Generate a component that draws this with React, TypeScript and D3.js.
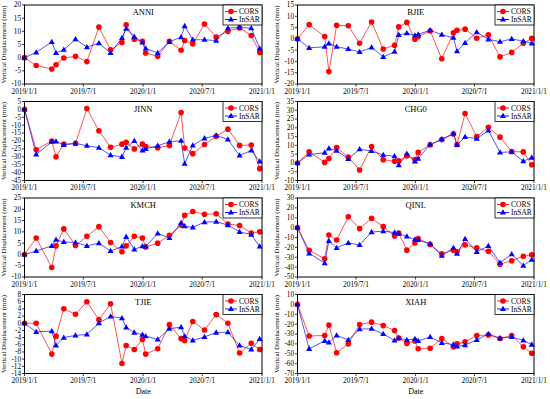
import React from 'react';
import * as d3 from 'd3';

// acquisition dates shared by every station
const dates = [
  '2019-01-01', '2019-02-06', '2019-03-26', '2019-04-08', '2019-05-02', '2019-06-07',
  '2019-07-12', '2019-08-18', '2019-09-23', '2019-10-28', '2019-11-10', '2019-12-05',
  '2019-12-30', '2020-01-09', '2020-02-15', '2020-03-22', '2020-04-27', '2020-05-08',
  '2020-06-02', '2020-07-08', '2020-08-13', '2020-09-18', '2020-10-24', '2020-11-29',
  '2020-12-25',
];

const xTickLabels = ['2019/1/1', '2019/7/1', '2020/1/1', '2020/7/1', '2021/1/1'];
const xTickDates = ['2019-01-01', '2019-07-01', '2020-01-01', '2020-07-01', '2021-01-01'];

const stationNames = ['ANNI', 'BJIE', 'JINN', 'CHG0', 'KMCH', 'QINL', 'TJIE', 'XIAH'];

const annCors = [0, -3, -4.3, -2.7, -0.1, 0.5, -1.5, 11.6, 3, 5.8, 12.5, 7, 6.2, 1.8, 0.5, 6.2, 2.8, 6.5, 5.2, 12.8, 7.8, 10, 11.3, 8.4, 2];
const annInsar = [0, 2, 6, 1.8, 3, 7, 4, 5.5, 1.8, 7.5, 11, 8, 5.8, 3.5, 1.8, 6, 7.8, 12, 6.8, 6.8, 6.5, 11.2, 11.5, 11.2, 3.5];

const bjiCors = [0, 6.3, 1, -14.5, 6, 5.8, -2, 7.5, -4.5, -2.8, 5.3, 7.3, -0.2, 1, 3.5, -8.8, 2.7, 3.8, 4.3, 0.3, 1.8, -8, -6, -2, 0.2];
const bjiInsar = [0, -4, -3.5, -2, -3.5, -4.5, -5.8, -3.8, -8, -5.7, 1.7, 2.5, 1.5, 2, 3.8, 1.8, 0.5, -5.5, -1.8, 3, -0.2, -1.3, 0, -1, -2];

const jinCors = [0, -25.5, -20, -30, -22, -21.5, 0.5, -13.5, -24, -22, -20.8, -25, -22, -23.5, -24.3, -22.8, -2, -24.5, -28, -22.2, -17, -12.5, -22.8, -22.5, -37.5];
const jinInsar = [0, -28.5, -20.5, -20.3, -22.5, -21.5, -23, -24.2, -29, -30, -24.2, -20, -26, -25, -23, -20.5, -19.8, -34.3, -22.8, -18.3, -16.5, -19, -29.2, -26, -33];

const chgCors = [0, 6.3, 0.3, 2.5, 8.8, 3.3, -4, 9.3, 1.8, 1, 1.2, 4, 2, 6, 10.3, 13.3, 16.5, 10.5, 28.2, 15, 20.3, 14.7, 6.5, 6.3, -1];
const chgInsar = [0, 4.8, 5.8, 8.3, 7, 2.3, 7.8, 6.8, 4.5, 3.8, -1.2, 5.3, 0.8, 2.5, 10.5, 13.5, 16.8, 10.3, 14.8, 13.8, 18.5, 6, 6.3, 1, 3];

const kmcCors = [0, 7.3, -5.8, 3.8, 11.3, 4, 8, 12.3, 5.3, 1.2, 3.8, 8, 7.3, 3.3, 5, 8.5, 13, 17.3, 19, 17.8, 18, 13.5, 12.8, 9.5, 10];
const kmcInsar = [0, 1.5, 3.8, 6.5, 5.5, 5.3, 3.8, 5, 1.5, 3.5, 7.8, 2.2, 3.7, 3.5, 9.3, 7.3, 14, 12.5, 12, 14.3, 14.5, 13, 10, 8.8, 3.5];

const qinCors = [0, -23, -31.5, -7.5, -12.5, 11, -1, 9.5, 1, -8.5, -5.5, -22.8, -15.5, -11, -17, -26.5, -22.8, -24.5, -17.5, -20.5, -24, -37, -33.5, -29, -27.5];
const qinInsar = [0, -26, -36, -13.5, -20.5, -15.5, -17.5, -4.5, -3.5, -5, -6, -9, -12, -12.5, -16.5, -28.5, -20.5, -26.5, -11.5, -24.5, -18.5, -35.5, -27, -38.5, -32.5];

const tjiCors = [0, 0, -8.6, -3.6, 4, 2.5, 6, 1, 5.4, -11.2, -6.2, -7.3, -4.5, -8.6, -7.1, -0.4, -4.3, -4.8, 0.5, -1.9, 2.4, 0, -8.3, -5.6, -7.3];
const tjiInsar = [0, -2.4, -2.2, -6.2, -4, -3.4, -3.1, 0, 1.9, 1.4, -1.2, -2.6, -3.2, -3.6, -4.5, -1.5, -1.1, -3.6, -4.8, -3.8, -2.6, -2.5, -6.2, -7.3, -4.4];

const xiaCors = [0, -32, -31.5, -21, -49, -40, -20.5, -18, -21.5, -26.5, -34, -39.5, -37, -45, -44.5, -34.5, -43, -40, -38, -31.5, -31, -34.5, -31.5, -43, -49.5];
const xiaInsar = [0, -45, -37, -38.5, -31.5, -36, -25, -24.7, -30, -36.5, -34.2, -36, -35, -37, -33, -39, -40.7, -42.5, -41.3, -36, -30, -34.2, -33, -36.5, -40.7];

const yDomains: [number, number, number][] = [
  [-10, 20, 5], [-20, 15, 5], [-45, 5, 5], [-10, 35, 5],
  [-10, 25, 5], [-50, 30, 10], [-14, 8, 2], [-70, 10, 10],
];

const corsSeries = [annCors, bjiCors, jinCors, chgCors, kmcCors, qinCors, tjiCors, xiaCors];
const insarSeries = [annInsar, bjiInsar, jinInsar, chgInsar, kmcInsar, qinInsar, tjiInsar, xiaInsar];

const W = 550;
const H = 399;
const colX = [[24.5, 262], [297.5, 534]];
const rowTop = (r: number) => 5 + r * 96.5;
const PH = 79;
const FONT = '"Liberation Serif", "Times New Roman", serif';
const RED = '#ff0000';
const BLUE = '#0000ff';

const parse = d3.timeParse('%Y-%m-%d');

const triangle = (cx: number, cy: number, s: number) =>
  `M${cx},${cy - s}L${cx + s * 0.95},${cy + s * 0.65}L${cx - s * 0.95},${cy + s * 0.65}Z`;

function Panel({ idx }: { idx: number }) {
  const col = idx % 2;
  const row = Math.floor(idx / 2);
  const [x0, x1] = colX[col];
  const top = rowTop(row);
  const bottom = top + PH;
  const [ymin, ymax, step] = yDomains[idx];

  const x = d3.scaleTime()
    .domain([parse('2019-01-01')!, parse('2021-01-01')!])
    .range([x0, x1]);
  const y = d3.scaleLinear().domain([ymin, ymax]).range([bottom, top]);
  const yTicks = d3.range(ymin, ymax + step / 2, step);

  const pts = dates.map(d => parse(d)!);
  const line = d3.line<number>()
    .x((_, i) => x(pts[i]))
    .y(d => y(d));

  const cors = corsSeries[idx];
  const insar = insarSeries[idx];
  const lx = x1 - 39;

  return (
    <g>
      <path d={line(cors) || ''} fill="none" stroke={RED} strokeOpacity={0.75} strokeWidth={0.9} />
      <path d={line(insar) || ''} fill="none" stroke={BLUE} strokeOpacity={0.75} strokeWidth={0.9} />
      {cors.map((v, i) => (
        <circle key={'c' + i} cx={x(pts[i])} cy={y(v)} r={2.8} fill={RED} />
      ))}
      {insar.map((v, i) => (
        <path key={'t' + i} d={triangle(x(pts[i]), y(v), 3.2)} fill={BLUE} />
      ))}

      {/* frame */}
      <rect x={x0} y={top} width={x1 - x0} height={PH} fill="none" stroke="#000" strokeWidth={1} />

      {/* y axis */}
      {yTicks.map(t => (
        <g key={'y' + t}>
          <line x1={x0} x2={x0 - 2.5} y1={y(t)} y2={y(t)} stroke="#000" strokeWidth={0.8} />
          <text x={x0 - 3.5} y={y(t)} dy="0.33em" textAnchor="end" fontSize={7.2} fontFamily={FONT}>{t}</text>
        </g>
      ))}
      <text
        transform={`translate(${x0 - 18.5},${(top + bottom) / 2}) rotate(-90)`}
        textAnchor="middle" fontSize={6.9} fontFamily={FONT}>
        Vertical Displacement (mm)
      </text>

      {/* x axis */}
      {xTickDates.map((d, i) => (
        <g key={'x' + d}>
          <line x1={x(parse(d)!)} x2={x(parse(d)!)} y1={bottom} y2={bottom + 2.5} stroke="#000" strokeWidth={0.8} />
          <text x={x(parse(d)!)} y={bottom + 9.5} textAnchor="middle" fontSize={7.3} fontFamily={FONT}>{xTickLabels[i]}</text>
        </g>
      ))}

      {/* station name */}
      <text x={(x0 + x1) / 2} y={top + 10} textAnchor="middle" fontSize={8.5} fontFamily={FONT}>{stationNames[idx]}</text>

      {/* legend */}
      <rect x={lx} y={top} width={39} height={20} fill="#fff" stroke="#000" strokeWidth={0.8} />
      <line x1={lx + 2} x2={lx + 14} y1={top + 6.5} y2={top + 6.5} stroke={RED} strokeWidth={0.9} />
      <circle cx={lx + 8} cy={top + 6.5} r={2.8} fill={RED} />
      <text x={lx + 16} y={top + 6.5} dy="0.35em" fontSize={7.5} fontFamily={FONT}>CORS</text>
      <line x1={lx + 2} x2={lx + 14} y1={top + 14.5} y2={top + 14.5} stroke={BLUE} strokeWidth={0.9} />
      <path d={triangle(lx + 8, top + 14.5, 3.2)} fill={BLUE} />
      <text x={lx + 16} y={top + 14.5} dy="0.35em" fontSize={7.5} fontFamily={FONT}>InSAR</text>
    </g>
  );
}

export default function App() {
  const bottom = rowTop(3) + PH;
  return (
    <svg width={W} height={H} style={{ position: 'absolute', left: 0, top: 0, background: '#fff' }}>
      {stationNames.map((_, i) => <Panel key={i} idx={i} />)}
      <text x={(colX[0][0] + colX[0][1]) / 2} y={bottom + 20} textAnchor="middle" fontSize={8} fontFamily={FONT}>Date</text>
      <text x={(colX[1][0] + colX[1][1]) / 2} y={bottom + 20} textAnchor="middle" fontSize={8} fontFamily={FONT}>Date</text>
    </svg>
  );
}
